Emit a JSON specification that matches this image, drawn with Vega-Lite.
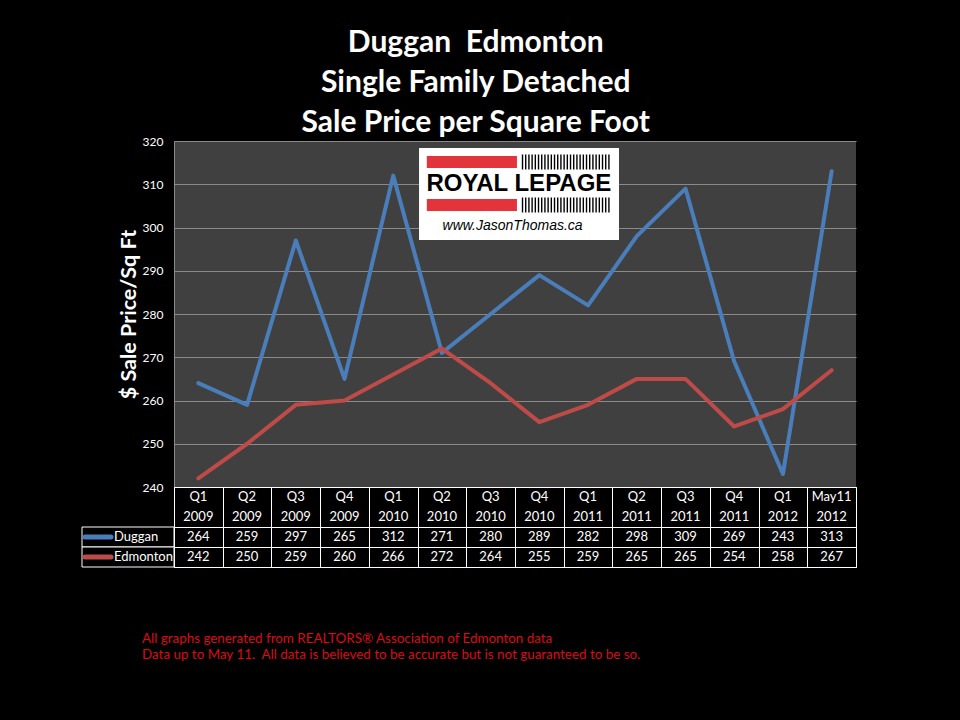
{
  "$schema": "https://vega.github.io/schema/vega-lite/v6.json",
  "background": "black",
  "padding": {"left": 75, "top": 28, "right": 103, "bottom": 59},
  "config": {"view": {"stroke": null}, "font": "Lato"},
  "title": {
    "text": ["Duggan\u00a0\u00a0Edmonton", "Single Family Detached", "Sale Price per Square Foot"],
    "color": "white", "fontSize": 30, "fontWeight": "bold", "font": "Lato",
    "lineHeight": 40, "anchor": "middle", "dx": 10, "offset": -3
  },
  "datasets": {
    "d": [
      {"period": "Q1 2009", "q": "Q1", "yr": "2009", "series": "Duggan", "value": 264},
      {"period": "Q2 2009", "q": "Q2", "yr": "2009", "series": "Duggan", "value": 259},
      {"period": "Q3 2009", "q": "Q3", "yr": "2009", "series": "Duggan", "value": 297},
      {"period": "Q4 2009", "q": "Q4", "yr": "2009", "series": "Duggan", "value": 265},
      {"period": "Q1 2010", "q": "Q1", "yr": "2010", "series": "Duggan", "value": 312},
      {"period": "Q2 2010", "q": "Q2", "yr": "2010", "series": "Duggan", "value": 271},
      {"period": "Q3 2010", "q": "Q3", "yr": "2010", "series": "Duggan", "value": 280},
      {"period": "Q4 2010", "q": "Q4", "yr": "2010", "series": "Duggan", "value": 289},
      {"period": "Q1 2011", "q": "Q1", "yr": "2011", "series": "Duggan", "value": 282},
      {"period": "Q2 2011", "q": "Q2", "yr": "2011", "series": "Duggan", "value": 298},
      {"period": "Q3 2011", "q": "Q3", "yr": "2011", "series": "Duggan", "value": 309},
      {"period": "Q4 2011", "q": "Q4", "yr": "2011", "series": "Duggan", "value": 269},
      {"period": "Q1 2012", "q": "Q1", "yr": "2012", "series": "Duggan", "value": 243},
      {"period": "May11 2012", "q": "May11", "yr": "2012", "series": "Duggan", "value": 313},
      {"period": "Q1 2009", "q": "Q1", "yr": "2009", "series": "Edmonton", "value": 242},
      {"period": "Q2 2009", "q": "Q2", "yr": "2009", "series": "Edmonton", "value": 250},
      {"period": "Q3 2009", "q": "Q3", "yr": "2009", "series": "Edmonton", "value": 259},
      {"period": "Q4 2009", "q": "Q4", "yr": "2009", "series": "Edmonton", "value": 260},
      {"period": "Q1 2010", "q": "Q1", "yr": "2010", "series": "Edmonton", "value": 266},
      {"period": "Q2 2010", "q": "Q2", "yr": "2010", "series": "Edmonton", "value": 272},
      {"period": "Q3 2010", "q": "Q3", "yr": "2010", "series": "Edmonton", "value": 264},
      {"period": "Q4 2010", "q": "Q4", "yr": "2010", "series": "Edmonton", "value": 255},
      {"period": "Q1 2011", "q": "Q1", "yr": "2011", "series": "Edmonton", "value": 259},
      {"period": "Q2 2011", "q": "Q2", "yr": "2011", "series": "Edmonton", "value": 265},
      {"period": "Q3 2011", "q": "Q3", "yr": "2011", "series": "Edmonton", "value": 265},
      {"period": "Q4 2011", "q": "Q4", "yr": "2011", "series": "Edmonton", "value": 254},
      {"period": "Q1 2012", "q": "Q1", "yr": "2012", "series": "Edmonton", "value": 258},
      {"period": "May11 2012", "q": "May11", "yr": "2012", "series": "Edmonton", "value": 267}
    ]
  },
  "data": {"name": "d"},
  "columns": 2,
  "spacing": 0,
  "bounds": "flush",
  "align": "each",
  "concat": [
    {
      "width": 92, "height": 346,
      "data": {"values": [{}]},
      "mark": {"type": "text", "text": ""}
    },
    {
      "width": 682, "height": 346,
      "view": {"fill": "#404040", "stroke": null},
      "layer": [
        {
          "mark": {"type": "line", "strokeWidth": 4, "strokeCap": "round", "strokeJoin": "round"},
          "encoding": {
            "x": {"field": "period", "type": "nominal", "sort": null, "scale": {"type": "point", "padding": 0.5}, "axis": null},
            "y": {
              "field": "value", "type": "quantitative",
              "scale": {"domain": [240, 320], "nice": false, "zero": false},
              "axis": {
                "values": [240, 250, 260, 270, 280, 290, 300, 310, 320],
                "grid": true, "gridColor": "#8a8a8a", "gridWidth": 1,
                "domain": true, "domainColor": "#8a8a8a", "ticks": false,
                "labelColor": "white", "labelFontSize": 12, "labelPadding": 11,
                "title": "$ Sale Price/Sq Ft", "titleColor": "white", "titleFontSize": 21.5,
                "titleFontWeight": "bold", "titlePadding": 2
              }
            },
            "color": {"field": "series", "type": "nominal", "scale": {"domain": ["Duggan", "Edmonton"], "range": ["#4a7ebb", "#be4b48"]}, "legend": null}
          }
        },
        {
          "data": {"values": [{}]},
          "layer": [
            {
              "mark": {"type": "rect", "fill": "white"},
              "encoding": {
                "x": {"datum": 5.03, "type": "quantitative", "scale": {"domain": [0, 14]}, "axis": null},
                "x2": {"datum": 9.135},
                "y": {"datum": 318.38, "type": "quantitative"},
                "y2": {"datum": 297.11}
              }
            },
            {
              "mark": {"type": "rect", "fill": "#e4343b"},
              "encoding": {
                "x": {"datum": 5.19, "type": "quantitative", "scale": {"domain": [0, 14]}, "axis": null},
                "x2": {"datum": 7.04},
                "y": {"datum": 316.53, "type": "quantitative"},
                "y2": {"datum": 313.76}
              }
            },
            {
              "mark": {"type": "rect", "fill": "#e4343b"},
              "encoding": {
                "x": {"datum": 5.19, "type": "quantitative", "scale": {"domain": [0, 14]}, "axis": null},
                "x2": {"datum": 7.04},
                "y": {"datum": 306.59, "type": "quantitative"},
                "y2": {"datum": 303.82}
              }
            },
            {
              "mark": {"type": "rule", "color": "black", "strokeWidth": 15, "strokeDash": [1.4, 1.8]},
              "encoding": {
                "x": {"datum": 7.14, "type": "quantitative", "scale": {"domain": [0, 14]}, "axis": null},
                "x2": {"datum": 8.97},
                "y": {"datum": 315.14, "type": "quantitative"}
              }
            },
            {
              "mark": {"type": "rule", "color": "black", "strokeWidth": 15, "strokeDash": [1.4, 1.8]},
              "encoding": {
                "x": {"datum": 7.14, "type": "quantitative", "scale": {"domain": [0, 14]}, "axis": null},
                "x2": {"datum": 8.97},
                "y": {"datum": 305.2, "type": "quantitative"}
              }
            },
            {
              "mark": {"type": "text", "text": "ROYAL LEPAGE", "font": "Liberation Sans", "fontWeight": "bold", "fontSize": 24, "color": "black", "baseline": "middle", "align": "center"},
              "encoding": {
                "x": {"datum": 7.08, "type": "quantitative", "scale": {"domain": [0, 14]}, "axis": null},
                "y": {"datum": 309.95, "type": "quantitative"}
              }
            },
            {
              "mark": {"type": "text", "text": "www.JasonThomas.ca", "font": "Liberation Sans", "fontStyle": "italic", "fontSize": 14, "color": "black", "baseline": "middle", "align": "center"},
              "encoding": {
                "x": {"datum": 6.95, "type": "quantitative", "scale": {"domain": [0, 14]}, "axis": null},
                "y": {"datum": 300.35, "type": "quantitative"}
              }
            }
          ]
        }
      ],
      "resolve": {"scale": {"x": "independent"}}
    },
    {
      "width": 92, "height": 80,
      "transform": [{"filter": "datum.period === 'Q1 2009'"}],
      "encoding": {
        "y": {"field": "series", "type": "nominal", "scale": {"type": "band", "domain": ["q", "yr", "Duggan", "Edmonton"], "paddingInner": 0, "paddingOuter": 0}, "axis": null}
      },
      "layer": [
        {"mark": {"type": "rect", "fill": "black", "stroke": "white", "strokeWidth": 1}},
        {
          "mark": {"type": "point", "shape": "M-1,0L1,0", "filled": false, "strokeWidth": 5, "strokeCap": "round", "size": 676, "xOffset": -30, "opacity": 1},
          "encoding": {"color": {"field": "series", "type": "nominal", "scale": {"domain": ["Duggan", "Edmonton"], "range": ["#4a7ebb", "#be4b48"]}, "legend": null}}
        },
        {
          "mark": {"type": "text", "color": "white", "align": "left", "dx": -14, "fontSize": 13},
          "encoding": {"text": {"field": "series"}}
        }
      ]
    },
    {
      "width": 682, "height": 80,
      "view": {"stroke": "white", "strokeWidth": 1},
      "title": {
        "text": ["All graphs generated from REALTORS® Association of Edmonton data", "Data up to May 11.\u00a0 All data is believed to be accurate but is not guaranteed to be so."],
        "orient": "bottom", "anchor": "start", "color": "#dd0a14", "fontSize": 13.4, "fontWeight": "normal",
        "font": "Lato", "lineHeight": 16, "offset": 65, "dx": -32
      },
      "encoding": {
        "x": {
          "field": "period", "type": "nominal", "sort": null,
          "scale": {"type": "band", "paddingInner": 0, "paddingOuter": 0},
          "axis": {"grid": true, "gridColor": "white", "gridWidth": 1, "tickBand": "extent", "labels": false, "ticks": false, "domain": false, "title": null}
        }
      },
      "layer": [
        {
          "mark": {"type": "text", "color": "white", "fontSize": 13},
          "encoding": {
            "y": {
              "field": "series", "type": "nominal",
              "scale": {"type": "band", "domain": ["q", "yr", "Duggan", "Edmonton"], "paddingInner": 0, "paddingOuter": 0},
              "axis": {"grid": true, "gridColor": {"condition": {"test": "datum.value === 'q'", "value": "rgba(0,0,0,0)"}, "value": "white"}, "gridWidth": 1, "tickBand": "extent", "labels": false, "ticks": false, "domain": false, "title": null}
            },
            "text": {"field": "value"}
          }
        },
        {
          "transform": [{"filter": "datum.series === 'Duggan'"}],
          "mark": {"type": "text", "color": "white", "fontSize": 13},
          "encoding": {"y": {"datum": "q", "type": "nominal"}, "text": {"field": "q"}}
        },
        {
          "transform": [{"filter": "datum.series === 'Duggan'"}],
          "mark": {"type": "text", "color": "white", "fontSize": 13},
          "encoding": {"y": {"datum": "yr", "type": "nominal"}, "text": {"field": "yr"}}
        }
      ]
    }
  ]
}
